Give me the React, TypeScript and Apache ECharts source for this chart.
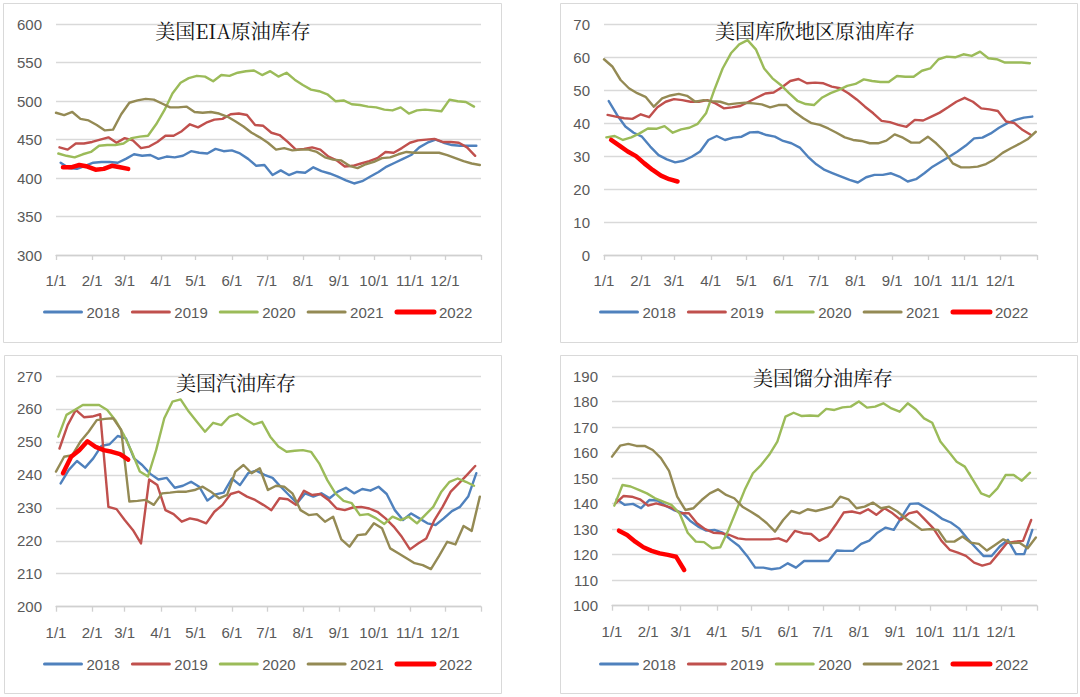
import React, { useEffect, useRef } from 'react';
import * as echarts from 'echarts';

const years = ['2018', '2019', '2020', '2021', '2022'];
const yearStartDay = [4, 3, 2, 0, 6];
const yearColors = ['#4F81BD', '#C0504D', '#9BBB59', '#948A54', '#FF0000'];
const yearWidths = [2.4, 2.4, 2.4, 2.4, 4.5];
const legendWidths = [3, 3, 3, 3, 5];

const monthLabels = ['1/1', '2/1', '3/1', '4/1', '5/1', '6/1', '7/1', '8/1', '9/1', '10/1', '11/1', '12/1'];
const monthStartDays = [0, 31, 59, 90, 120, 151, 181, 212, 243, 273, 304, 334];

// Panel 1: EIA crude
const eia2018 = [420, 413, 412, 416, 420, 421, 421, 420, 425, 431, 429, 430, 425, 428, 427, 429, 435, 433, 432, 438, 435, 436, 432, 425, 416, 417, 404, 410, 404, 408, 407, 414, 409, 406, 402, 397, 393, 396, 402, 408, 415, 420, 425, 430, 440, 446, 450, 446, 443, 442, 442, 442];
const eia2019 = [440, 437, 445, 445, 447, 450, 453, 446, 452, 449, 439, 441, 447, 455, 455, 461, 470, 466, 472, 476, 477, 483, 484, 482, 469, 468, 459, 456, 447, 437, 438, 440, 437, 428, 423, 415, 416, 419, 422, 426, 434, 433, 439, 446, 449, 450, 451, 447, 447, 446, 440, 429];
const eia2020 = [432, 429, 427, 431, 434, 442, 443, 443, 445, 452, 454, 455, 470, 488, 510, 524, 530, 533, 532, 526, 534, 533, 537, 539, 540, 534, 539, 532, 537, 528, 521, 515, 513, 509, 500, 501, 496, 495, 493, 492, 489, 488, 492, 484, 488, 489, 488, 487, 502, 500, 499, 493];
const eia2021 = [485, 482, 486, 477, 475, 469, 462, 463, 483, 498, 501, 503, 502, 497, 492, 492, 493, 486, 485, 486, 484, 480, 474, 467, 459, 453, 446, 437, 439, 436, 437, 437, 434, 427, 424, 423, 416, 413, 418, 421, 426, 427, 431, 434, 433, 433, 433, 433, 430, 426, 422, 419, 417];
const eia2022 = [414, 414, 417, 415, 411, 412, 416, 414, 412];

// Panel 2: Cushing crude
const cush2018 = [46.7, 42.5, 39.0, 37.1, 35.9, 32.9, 30.3, 29.0, 28.1, 28.6, 29.8, 31.4, 34.9, 36.1, 34.9, 35.6, 35.9, 37.2, 37.3, 36.4, 35.9, 34.6, 33.9, 32.6, 29.8, 27.5, 25.8, 24.8, 23.8, 22.8, 22.0, 23.6, 24.3, 24.3, 24.8, 23.8, 22.3, 23.0, 24.8, 26.8, 28.3, 29.8, 31.4, 33.2, 35.4, 35.6, 36.9, 38.6, 40.0, 41.0, 41.7, 42.0];
const cush2019 = [42.5, 42.0, 41.5, 41.3, 42.7, 41.8, 44.8, 46.5, 47.3, 47.0, 46.5, 46.5, 47.0, 46.0, 44.5, 44.8, 45.2, 46.5, 47.8, 49.0, 49.3, 50.9, 52.8, 53.4, 52.1, 52.3, 52.1, 51.1, 50.6, 49.1, 47.2, 45.0, 43.0, 40.7, 40.3, 39.5, 38.9, 41.0, 40.8, 42.0, 43.2, 44.8, 46.5, 47.7, 46.5, 44.5, 44.2, 43.7, 40.5, 40.0, 37.9, 36.4];
const cush2020 = [35.7, 36.1, 34.9, 35.7, 36.9, 38.4, 38.3, 39.1, 37.1, 38.1, 38.6, 39.8, 43.0, 50.1, 56.6, 61.2, 63.9, 65.2, 62.4, 56.6, 53.6, 51.6, 49.1, 46.8, 45.8, 45.5, 47.8, 49.1, 50.1, 51.3, 51.9, 53.3, 52.8, 52.5, 52.5, 54.3, 54.1, 54.1, 55.9, 56.6, 59.4, 60.2, 60.0, 60.9, 60.4, 61.7, 59.7, 59.4, 58.4, 58.4, 58.4, 58.2];
const cush2021 = [59.4, 57.2, 53.1, 50.6, 49.1, 48.0, 45.0, 47.5, 48.4, 48.9, 48.3, 46.5, 47.0, 46.7, 46.5, 45.7, 46.0, 46.2, 46.0, 45.7, 44.8, 45.5, 45.5, 43.3, 41.5, 40.0, 39.5, 38.4, 37.1, 35.7, 34.9, 34.6, 33.9, 33.9, 34.7, 36.6, 35.6, 34.1, 34.1, 35.9, 33.9, 31.4, 27.8, 26.6, 26.6, 26.8, 27.6, 29.0, 31.0, 32.4, 33.7, 35.1, 37.4];
const cush2022 = [34.9, 33.2, 31.4, 30.0, 27.8, 25.8, 24.1, 23.0, 22.3];

// Panel 3: gasoline
const gas2018 = [237.4, 241.5, 244.2, 242.2, 245.0, 248.8, 249.3, 251.8, 251.1, 245.0, 243.0, 240.3, 238.6, 239.1, 236.1, 236.7, 237.9, 236.4, 232.2, 234.1, 234.6, 238.9, 236.9, 240.5, 241.3, 240.0, 239.1, 236.4, 233.9, 231.4, 234.4, 233.4, 234.4, 232.9, 234.9, 236.1, 234.4, 235.7, 235.2, 236.4, 234.2, 229.3, 226.3, 228.3, 226.8, 225.3, 224.8, 226.8, 229.0, 230.3, 233.4, 240.5];
const gas2019 = [248.0, 255.1, 259.7, 257.5, 257.7, 258.4, 230.3, 229.6, 226.3, 223.3, 219.2, 238.6, 236.9, 229.3, 228.1, 225.8, 226.8, 226.3, 225.3, 228.8, 230.9, 234.2, 234.9, 233.4, 232.4, 230.9, 229.3, 232.9, 232.6, 230.9, 235.2, 233.9, 234.2, 232.4, 229.8, 229.3, 230.1, 230.3, 229.8, 228.8, 226.8, 224.3, 221.2, 217.4, 219.2, 220.7, 226.3, 230.3, 234.9, 237.4, 240.0, 242.7];
const gas2020 = [251.6, 258.2, 259.7, 261.2, 261.2, 261.2, 259.7, 256.6, 252.3, 247.0, 241.0, 239.5, 247.5, 257.2, 262.2, 262.9, 259.2, 256.1, 253.1, 255.8, 255.1, 257.7, 258.5, 256.8, 255.3, 256.1, 251.6, 248.6, 247.0, 247.3, 247.5, 247.0, 243.5, 238.4, 234.4, 232.1, 231.4, 227.8, 228.1, 226.8, 225.1, 227.3, 226.3, 227.3, 225.3, 227.8, 230.3, 234.9, 237.9, 238.9, 237.9, 236.7];
const gas2021 = [241.0, 245.5, 246.0, 250.1, 253.1, 256.6, 257.0, 257.2, 253.6, 231.9, 232.1, 232.4, 230.9, 234.4, 234.6, 234.9, 234.9, 235.4, 236.4, 234.9, 232.9, 233.9, 241.0, 243.0, 240.5, 242.0, 235.4, 236.7, 236.4, 234.4, 229.3, 227.8, 228.1, 225.8, 227.3, 220.4, 218.2, 221.7, 222.0, 225.3, 223.8, 217.7, 216.2, 214.7, 213.2, 212.6, 211.4, 215.4, 219.7, 218.9, 224.5, 223.0, 233.4];
const gas2022 = [240.5, 245.5, 247.5, 250.2, 248.5, 247.5, 247.0, 246.3, 244.6];

// Panel 4: distillate
const dist2018 = [141.7, 139.5, 139.9, 138.2, 141.4, 141.2, 139.2, 137.5, 136.5, 133.3, 131.0, 129.4, 129.7, 128.6, 125.8, 123.4, 119.5, 114.9, 114.9, 114.3, 114.7, 116.6, 114.9, 117.5, 117.5, 117.5, 117.5, 121.6, 121.5, 121.5, 124.2, 125.5, 128.6, 130.6, 129.7, 134.9, 139.9, 140.1, 138.2, 136.2, 133.9, 132.6, 130.3, 126.4, 122.9, 119.5, 119.5, 123.2, 125.8, 120.2, 120.2, 129.7];
const dist2019 = [140.1, 143.0, 142.7, 141.7, 139.2, 140.1, 139.2, 138.2, 136.2, 136.2, 132.3, 130.0, 128.6, 128.4, 127.7, 126.4, 126.0, 126.0, 126.0, 126.0, 126.4, 125.1, 129.3, 128.4, 128.1, 125.4, 127.1, 131.6, 136.5, 136.9, 136.2, 137.8, 135.6, 138.2, 136.2, 133.6, 136.2, 136.9, 133.6, 130.3, 125.4, 121.9, 120.8, 119.5, 116.9, 115.7, 116.6, 120.5, 124.5, 125.1, 125.4, 133.6];
const dist2020 = [139.2, 147.3, 146.7, 145.4, 144.0, 142.1, 140.8, 139.5, 136.2, 128.6, 125.1, 124.9, 122.5, 122.9, 129.7, 137.5, 145.4, 151.9, 155.1, 159.1, 164.3, 174.1, 175.6, 174.3, 174.5, 174.3, 177.1, 176.7, 177.7, 178.0, 180.0, 177.6, 178.0, 179.3, 177.3, 176.0, 179.3, 176.9, 173.4, 171.7, 164.3, 160.4, 156.4, 154.5, 149.3, 144.0, 142.7, 146.0, 151.2, 151.2, 149.0, 152.1];
const dist2021 = [158.4, 162.7, 163.4, 162.6, 162.6, 161.0, 157.8, 152.8, 142.7, 137.5, 138.2, 141.4, 144.0, 145.6, 143.4, 142.1, 138.8, 136.9, 134.9, 132.3, 129.0, 133.6, 137.1, 136.2, 137.8, 137.1, 137.9, 138.8, 142.7, 141.7, 138.2, 138.8, 140.4, 138.2, 138.8, 136.9, 134.3, 132.0, 129.7, 130.0, 129.7, 125.1, 125.1, 127.1, 124.7, 124.2, 121.6, 123.8, 126.0, 124.5, 124.7, 122.5, 126.7];
const dist2022 = [129.4, 127.7, 125.1, 122.9, 121.5, 120.5, 119.9, 119.2, 114.0];

const panelTitles = ['美国EIA原油库存', '美国库欣地区原油库存', '美国汽油库存', '美国馏分油库存'];
const panelSeries = [
  [eia2018, eia2019, eia2020, eia2021, eia2022],
  [cush2018, cush2019, cush2020, cush2021, cush2022],
  [gas2018, gas2019, gas2020, gas2021, gas2022],
  [dist2018, dist2019, dist2020, dist2021, dist2022],
];
const yMin = [300, 0, 200, 100];
const yMax = [600, 70, 270, 190];
const yStep = [50, 10, 10, 10];

// layout (pixels)
const grids = [
  { left: 56, top: 24.3, width: 425, height: 230.7 },
  { left: 604, top: 24.3, width: 433, height: 230.7 },
  { left: 56, top: 376, width: 425, height: 230.7 },
  { left: 612, top: 376, width: 425, height: 229.7 },
];
const frames = [
  { x: 3.5, y: 3.5, width: 498, height: 339 },
  { x: 560.5, y: 3.5, width: 517, height: 339 },
  { x: 4.5, y: 355.5, width: 497, height: 338 },
  { x: 560.5, y: 355.5, width: 517, height: 338 },
];
const titlePos = [
  [233, 30.5],
  [815, 30],
  [236, 382.5],
  [823, 377.5],
];
const legendPos = [
  [38, 299.5],
  [594, 299.5],
  [38, 651.5],
  [594, 651.5],
];

function toPairs(start: number, values: number[]) {
  return values.map((v, i) => [start + 7 * i, v]);
}

export default function App() {
  const ref = useRef<HTMLDivElement>(null);
  useEffect(() => {
    if (!ref.current) return;
    const chart = echarts.init(ref.current, undefined, { renderer: 'svg' });
    const series: any[] = [];
    panelSeries.forEach((ps, pi) => {
      ps.forEach((vals, yi) => {
        series.push({
          type: 'line',
          name: years[yi],
          xAxisIndex: pi,
          yAxisIndex: pi,
          data: toPairs(yearStartDay[yi], vals),
          symbol: 'none',
          showSymbol: false,
          lineStyle: { color: yearColors[yi], width: yearWidths[yi], cap: 'round', join: 'round' },
          itemStyle: { color: yearColors[yi] },
          z: 2 + yi,
        });
      });
    });
    const graphic: any[] = [];
    frames.forEach((f) => {
      graphic.push({
        type: 'rect',
        shape: { x: f.x, y: f.y, width: f.width, height: f.height },
        style: { fill: 'none', stroke: '#d9d9d9', lineWidth: 1 },
        silent: true,
        z: 0,
      });
    });
    panelTitles.forEach((t, i) => {
      graphic.push({
        type: 'text',
        x: titlePos[i][0],
        y: titlePos[i][1],
        style: {
          text: t,
          fill: '#111',
          fontSize: 20,
          fontFamily: '"Noto Serif CJK SC", "Noto Sans CJK SC", serif',
          fontWeight: 'normal',
          align: 'center',
          verticalAlign: 'middle',
        },
        z: 10,
      });
    });
    const option: any = {
      animation: false,
      textStyle: { fontFamily: '"Liberation Sans", Arial, sans-serif' },
      grid: grids.map((g) => ({ ...g, containLabel: false })),
      xAxis: grids.map((_, i) => ({
        type: 'value',
        gridIndex: i,
        min: 0,
        max: 365,
        axisLine: { show: true, onZero: false, lineStyle: { color: '#d0d0d0', width: 1.3 } },
        axisTick: { show: true, customValues: [...monthStartDays, 365], length: 5, lineStyle: { color: '#d0d0d0', width: 1.3 } },
        axisLabel: {
          customValues: monthStartDays,
          formatter: (v: number) => {
            const k = monthStartDays.indexOf(Math.round(v));
            return k >= 0 ? monthLabels[k] : '';
          },
          color: '#595959',
          fontSize: 15,
          margin: 18,
        },
        splitLine: { show: false },
      })),
      yAxis: grids.map((_, i) => ({
        type: 'value',
        gridIndex: i,
        min: yMin[i],
        max: yMax[i],
        interval: yStep[i],
        axisLine: { show: false },
        axisTick: { show: false },
        axisLabel: { color: '#595959', fontSize: 15, margin: 14 },
        splitLine: { show: true, lineStyle: { color: '#d9d9d9', width: 1.3 } },
      })),
      legend: legendPos.map((p) => ({
        data: years.map((y, yi) => ({ name: y, lineStyle: { width: legendWidths[yi] } })),
        left: p[0],
        top: p[1],
        orient: 'horizontal',
        itemWidth: 37,
        itemHeight: 14,
        itemGap: 11,
        selectedMode: false,
        itemStyle: { opacity: 0 },
        textStyle: { color: '#595959', fontSize: 15 },
      })),
      series,
      graphic,
    };
    chart.setOption(option);
    return () => {
      chart.dispose();
    };
  }, []);
  return (
    <div
      ref={ref}
      style={{ position: 'fixed', left: 0, top: 0, width: 1080, height: 697, background: '#fff' }}
    />
  );
}
